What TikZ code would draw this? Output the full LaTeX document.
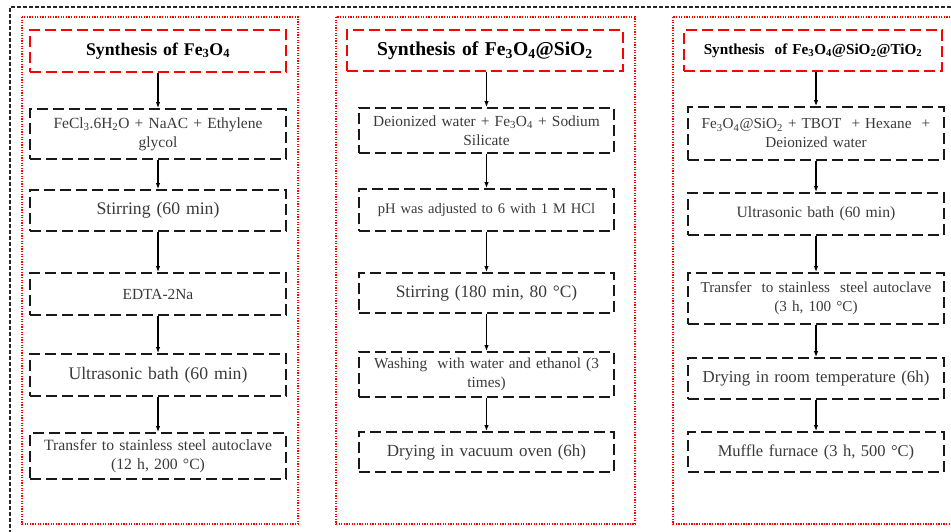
\documentclass[tikz,border=0pt]{standalone}
\usepackage{fontspec}
\setmainfont{Liberation Serif}
\usepackage{tikz}
\usetikzlibrary{positioning}
\usetikzlibrary{arrows.meta}
\definecolor{gristexte}{HTML}{3A3A3A}
\begin{document}
\begin{tikzpicture}[x=1pt,y=-1pt]
% définition des paramètres
\tikzstyle cadreext=[draw=black!85,line width=1.2pt,dash pattern=on 4pt off 2pt]
\tikzstyle cadrerouge=[draw=red,line width=1.5pt,dash pattern=on 1.3pt off 1.3pt]
\tikzstyle titrerouge=[draw=red,line width=1.8pt,dash pattern=on 11pt off 5pt,align=center,inner sep=2pt]
\tikzstyle etapenoire=[draw=black!90,line width=1.8pt,dash pattern=on 11pt off 5pt,align=center,inner sep=2pt,text=gristexte]
\tikzstyle fleche=[black,line width=1.2pt,-{Latex[length=6pt,width=4.5pt]}]
\newcommand{\taille}[1]{\fontsize{#1}{19}\selectfont}
\newcommand{\gras}[1]{\bfseries\fontsize{#1}{20}\selectfont}
\useasboundingbox (0,0) rectangle (951,532);
\clip (0,0) rectangle (951,532);
% le cadre extérieur
\draw [cadreext] (10,540) -- (10,7) -- (960,7);
% les cadres pointillés rouges
\draw [cadrerouge] (22,17) rectangle (298,524);
\draw [cadrerouge] (336,17) rectangle (635,524);
\draw [cadrerouge] (673,17) rectangle (965,524);
% colonne 1 : Fe3O4
\node [titrerouge,minimum width=256,minimum height=42,text width=252,font={\gras{17.8}}] (tA) at (158,51) {Synthesis of Fe\textsubscript{3}O\textsubscript{4}};
\node [etapenoire,minimum width=256,minimum height=50,text width=252,font={\taille{15.5}}] (a1) at (158,134) {FeCl\textsubscript{3}.6H\textsubscript{2}O + NaAC + Ethylene\\glycol};
\node [etapenoire,minimum width=256,minimum height=41,text width=252,font={\taille{17.7}}] (a2) at (158,210.5) {Stirring (60 min)};
\node [etapenoire,minimum width=256,minimum height=42,text width=252,font={\taille{15.4}}] (a3) at (158,294) {EDTA-2Na};
\node [etapenoire,minimum width=256,minimum height=42,text width=252,font={\taille{17.7}}] (a4) at (158,375) {Ultrasonic bath (60 min)};
\node [etapenoire,minimum width=256,minimum height=46,text width=252,font={\taille{15.7}}] (a5) at (158,456) {Transfer to stainless steel autoclave\\(12 h, 200 °C)};
% colonne 2 : Fe3O4@SiO2
\node [titrerouge,minimum width=276,minimum height=41,text width=272,font={\gras{19.6}}] (tB) at (485,50.5) {Synthesis of Fe\textsubscript{3}O\textsubscript{4}@SiO\textsubscript{2}};
\node [etapenoire,minimum width=255,minimum height=45,text width=251,font={\taille{15.4}}] (b1) at (486.5,130.5) {Deionized water + Fe\textsubscript{3}O\textsubscript{4} + Sodium\\Silicate};
\node [etapenoire,minimum width=255,minimum height=42,text width=251,font={\taille{14.6}}] (b2) at (486.5,210) {pH was adjusted to 6 with 1 M HCl};
\node [etapenoire,minimum width=255,minimum height=40,text width=251,font={\taille{17.4}}] (b3) at (486.5,293) {Stirring (180 min, 80 °C)};
\node [etapenoire,minimum width=255,minimum height=45,text width=251,font={\taille{15.3}}] (b4) at (486.5,374.5) {Washing \ with water and ethanol (3\\times)};
\node [etapenoire,minimum width=255,minimum height=40,text width=251,font={\taille{17}}] (b5) at (486.5,452) {Drying in vacuum oven (6h)};
% colonne 3 : Fe3O4@SiO2@TiO2
\node [titrerouge,minimum width=258,minimum height=41,text width=254,font={\gras{15.2}}] (tC) at (813,50.5) {Synthesis \ of Fe\textsubscript{3}O\textsubscript{4}@SiO\textsubscript{2}@TiO\textsubscript{2}};
\node [etapenoire,minimum width=256,minimum height=53,text width=252,font={\taille{15.2}}] (c1) at (816,133.5) {Fe\textsubscript{3}O\textsubscript{4}@SiO\textsubscript{2} + TBOT \ + Hexane \ +\\Deionized water};
\node [etapenoire,minimum width=256,minimum height=42,text width=252,font={\taille{15.7}}] (c2) at (816,214) {Ultrasonic bath (60 min)};
\node [etapenoire,minimum width=256,minimum height=51,text width=252,font={\taille{15.2}}] (c3) at (816,298.5) {Transfer \ to stainless \ steel autoclave\\(3 h, 100 °C)};
\node [etapenoire,minimum width=256,minimum height=41,text width=252,font={\taille{16.8}}] (c4) at (816,378.5) {Drying in room temperature (6h)};
\node [etapenoire,minimum width=256,minimum height=40,text width=252,font={\taille{16.5}}] (c5) at (816,452) {Muffle furnace (3 h, 500 °C)};
% les flèches
\draw [fleche] (tA.south) -- (a1.north);
\draw [fleche] (tB.south -| b1.north) -- (b1.north);
\draw [fleche] (tC.south -| c1.north) -- (c1.north);
\foreach \col in {a,b,c}
\foreach \i/\j in {1/2,2/3,3/4,4/5}
    \draw [fleche] (\col\i.south) -- (\col\j.north);
\end{tikzpicture}
\end{document}
